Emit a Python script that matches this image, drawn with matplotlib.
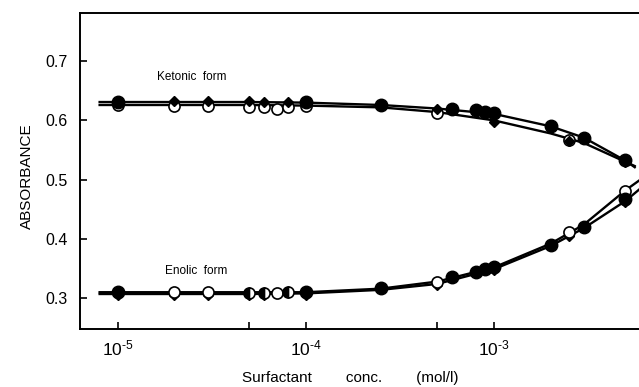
import matplotlib
matplotlib.use('Agg')
import matplotlib.pyplot as plt
from matplotlib.ticker import FixedLocator

plt.rcParams['font.family'] = ['Liberation Sans', 'DejaVu Sans']
plt.rcParams['mathtext.fontset'] = 'custom'
plt.rcParams['mathtext.rm'] = 'Liberation Sans'

# ketonic form (upper set)
keto_filled_x = [1e-5, 1e-4, 2.5e-4, 6e-4, 8e-4, 9e-4, 1e-3, 2e-3, 3e-3, 5e-3]
keto_filled_y = [0.631, 0.631, 0.626, 0.620, 0.617, 0.614, 0.612, 0.590, 0.570, 0.533]
keto_open_x = [1e-5, 2e-5, 3e-5, 5e-5, 6e-5, 7e-5, 8e-5, 1e-4, 5e-4, 2.5e-3]
keto_open_y = [0.626, 0.624, 0.624, 0.623, 0.622, 0.620, 0.623, 0.625, 0.612, 0.567]
keto_dia_x = [2e-5, 3e-5, 5e-5, 6e-5, 8e-5, 2.5e-4, 5e-4, 1e-3, 2.5e-3, 5e-3]
keto_dia_y = [0.632, 0.632, 0.632, 0.631, 0.631, 0.624, 0.620, 0.598, 0.566, 0.530]

# enolic form (lower set)
enol_filled_x = [1e-5, 1e-4, 2.5e-4, 6e-4, 8e-4, 9e-4, 1e-3, 2e-3, 3e-3, 5e-3]
enol_filled_y = [0.311, 0.311, 0.317, 0.335, 0.344, 0.349, 0.353, 0.390, 0.420, 0.468]
enol_open_x = [2e-5, 3e-5, 7e-5, 5e-4, 2.5e-3, 5e-3]
enol_open_y = [0.310, 0.310, 0.308, 0.328, 0.411, 0.480]
enol_half_x = [5e-5, 6e-5, 8e-5]
enol_half_y = [0.309, 0.308, 0.310]
enol_dia_x = [1e-5, 2e-5, 3e-5, 5e-5, 6e-5, 1e-4, 5e-4, 1e-3, 2.5e-3, 5e-3]
enol_dia_y = [0.306, 0.305, 0.305, 0.306, 0.306, 0.306, 0.322, 0.348, 0.405, 0.462]

# hand-drawn fit curves
curve_x = [8e-6, 1e-5, 5e-5, 1e-4, 2.5e-4, 5e-4, 1e-3, 2e-3, 3e-3, 5e-3, 5.6e-3]
keto_curve_a = [0.631, 0.631, 0.631, 0.630, 0.626, 0.620, 0.611, 0.590, 0.571, 0.532, 0.521]
keto_curve_b = [0.626, 0.626, 0.626, 0.625, 0.622, 0.614, 0.600, 0.578, 0.562, 0.530, 0.523]
enol_curve_x = [8e-6, 1e-5, 5e-5, 1e-4, 2.5e-4, 5e-4, 1e-3, 2e-3, 3e-3, 5e-3, 6e-3]
enol_curve_a = [0.310, 0.310, 0.310, 0.310, 0.316, 0.328, 0.352, 0.392, 0.424, 0.482, 0.500]
enol_curve_b = [0.307, 0.307, 0.307, 0.308, 0.314, 0.324, 0.349, 0.388, 0.418, 0.464, 0.485]

xtick_vals = [1e-5, 1e-4, 1e-3]
xtick_labels = ['$\\mathregular{10^{\u20105}}$', '$\\mathregular{10^{\u20104}}$', '$\\mathregular{10^{\u20103}}$']
ytick_vals = [0.3, 0.4, 0.5, 0.6, 0.7]

fig = plt.figure(figsize=(6.39, 3.87), dpi=100)
ax = fig.add_axes([0.125, 0.150, 0.875, 0.816])

for cx, cy in [(curve_x, keto_curve_a), (curve_x, keto_curve_b),
               (enol_curve_x, enol_curve_a), (enol_curve_x, enol_curve_b)]:
    ax.plot(cx, cy, color='black', lw=1.7, zorder=2)

ms = 8
ax.plot(keto_open_x, keto_open_y, 'o', ms=ms, mfc='white', mec='black', mew=1.2, zorder=3)
ax.plot(keto_dia_x, keto_dia_y, 'D', ms=5.5, color='black', zorder=4)
ax.plot(keto_filled_x, keto_filled_y, 'o', ms=ms + 1, color='black', zorder=5)

ax.plot(enol_dia_x, enol_dia_y, 'D', ms=5.5, color='black', zorder=3)
ax.plot(enol_open_x, enol_open_y, 'o', ms=ms, mfc='white', mec='black', mew=1.2, zorder=4)
ax.plot(enol_half_x, enol_half_y, 'o', ms=ms, fillstyle='left', color='black',
        markerfacecoloralt='white', mew=1.2, zorder=4)
ax.plot(enol_filled_x, enol_filled_y, 'o', ms=ms + 1, color='black', zorder=5)

ax.set_xscale('log')
ax.set_xlim(10 ** -5.202, 10 ** -2.229)
ax.set_ylim(0.248, 0.781)

ax.xaxis.set_major_locator(FixedLocator(xtick_vals))
ax.xaxis.set_minor_locator(FixedLocator([5e-5, 5e-4]))
ax.set_xticklabels(xtick_labels)
ax.set_yticks(ytick_vals)
ax.set_yticklabels([f'{v:.1f}' for v in ytick_vals])

ax.tick_params(axis='x', which='both', direction='in', length=5, width=1.2, pad=7, labelsize=12.5)
ax.tick_params(axis='y', direction='in', length=5, width=1.2, pad=9, labelsize=11.5)
ax.spines['right'].set_visible(False)
for s in ['left', 'bottom', 'top']:
    ax.spines[s].set_linewidth(1.4)

fig.text(27 / 639, 1 - 176 / 387, 'ABSORBANCE', rotation=90, ha='center', va='center', fontsize=11)
fig.text(350 / 639, 1 - 378 / 387, 'Surfactant        conc.        (mol/l)',
         ha='center', va='center', fontsize=11)

ax.text(10 ** -4.79, 0.668, 'Ketonic  form', fontsize=8.5)
ax.text(10 ** -4.75, 0.34, 'Enolic  form', fontsize=8.5)

fig.savefig('out.png', dpi=100)
